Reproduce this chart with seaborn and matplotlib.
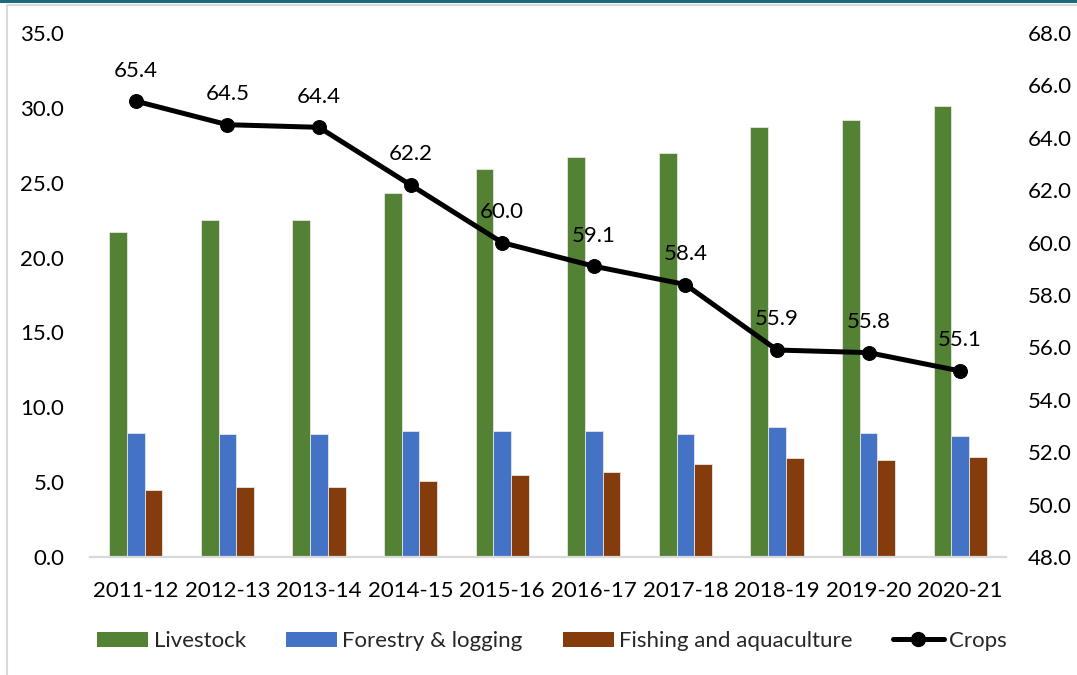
import numpy as np
import pandas as pd
import matplotlib
matplotlib.use("Agg")
import matplotlib.pyplot as plt
from matplotlib.patches import Patch
from matplotlib.lines import Line2D
from matplotlib.ticker import FormatStrFormatter, MultipleLocator
import seaborn as sns

# Share of agricultural output by sub-sector (%)
years = ["2011-12", "2012-13", "2013-14", "2014-15", "2015-16",
         "2016-17", "2017-18", "2018-19", "2019-20", "2020-21"]
livestock = [21.7, 22.5, 22.5, 24.3, 25.9, 26.7, 27.0, 28.7, 29.2, 30.1]
forestry = [8.3, 8.2, 8.2, 8.4, 8.4, 8.4, 8.2, 8.7, 8.3, 8.1]
fishing = [4.5, 4.7, 4.7, 5.1, 5.5, 5.7, 6.2, 6.6, 6.5, 6.7]
crops = [65.4, 64.5, 64.4, 62.2, 60.0, 59.1, 58.4, 55.9, 55.8, 55.1]

series_names = ["Livestock", "Forestry & logging", "Fishing and aquaculture"]
bar_colors = ["#548235", "#4472C4", "#843C0C"]
line_name = "Crops"

sns.set_theme(style="white")
plt.rcParams["font.family"] = ["Lato", "DejaVu Sans"]
FS = 16

df = pd.DataFrame({
    "year": years * 3,
    "sector": [series_names[0]] * len(years) + [series_names[1]] * len(years)
              + [series_names[2]] * len(years),
    "value": livestock + forestry + fishing,
})

fig = plt.figure(figsize=(10.77, 6.75), dpi=100)
ax = fig.add_axes([90 / 1077, 1 - 557 / 675, (1006 - 90) / 1077, (557 - 33) / 675])

sns.barplot(data=df, x="year", y="value", hue="sector", order=years,
            hue_order=series_names, palette=bar_colors, width=0.58,
            saturation=1, legend=False, ax=ax, linewidth=0.6,
            edgecolor="#e6e6e6")

ax.set_xlim(-0.5, len(years) - 0.5)
ax.set_ylim(0, 35)
ax.yaxis.set_major_locator(MultipleLocator(5))
ax.yaxis.set_major_formatter(FormatStrFormatter("%.1f"))
ax.set_xlabel("")
ax.set_ylabel("")
ax.tick_params(axis="both", length=0, labelsize=FS, colors="black")
ax.tick_params(axis="y", pad=18.5)
ax.tick_params(axis="x", pad=17)
for side in ["left", "right", "top"]:
    ax.spines[side].set_visible(False)
ax.spines["bottom"].set_color("#d9d9d9")
ax.spines["bottom"].set_linewidth(1.6)

# Crops share on the secondary axis
ax2 = ax.twinx()
xpos = np.arange(len(years))
sns.lineplot(x=xpos, y=crops, ax=ax2, color="black", linewidth=3.6,
             marker="o", markersize=10, markeredgecolor="black", legend=False)
for x, v in zip(xpos, crops):
    ax2.annotate(f"{v:.1f}", (x, v), xytext=(0, 22), textcoords="offset points",
                 ha="center", va="center", fontsize=FS, color="black")
ax2.set_ylim(48, 68)
ax2.yaxis.set_major_locator(MultipleLocator(2))
ax2.yaxis.set_major_formatter(FormatStrFormatter("%.1f"))
ax2.tick_params(axis="y", length=0, labelsize=FS, colors="black", pad=15.5)
ax2.set_ylabel("")
for side in ["left", "right", "top", "bottom"]:
    ax2.spines[side].set_visible(False)
ax2.set_xlim(-0.5, len(years) - 0.5)

# Legend along the bottom
handles = [Patch(facecolor=c, edgecolor="none") for c in bar_colors]
handles.append(Line2D([0], [0], color="black", linewidth=3.6, marker="o",
                      markersize=10))
labels = series_names + [line_name]
fig.legend(handles, labels, loc="center", bbox_to_anchor=(552 / 1077, 1 - 641 / 675),
           ncol=4, frameon=False, fontsize=FS, handlelength=2.3,
           handleheight=0.65, handletextpad=0.25, columnspacing=1.8)

# Outer frame: teal rule at the top and light grey border
fig.add_artist(Line2D([0, 1], [1 - 1 / 675, 1 - 1 / 675], transform=fig.transFigure,
                      color="#1b6b7d", linewidth=2.2))
fig.add_artist(Line2D([7 / 1077, 7 / 1077, 1], [0, 1 - 5 / 675, 1 - 5 / 675],
                      transform=fig.transFigure, color="#d9d9d9", linewidth=1.5))

fig.savefig("out.png", dpi=100)
